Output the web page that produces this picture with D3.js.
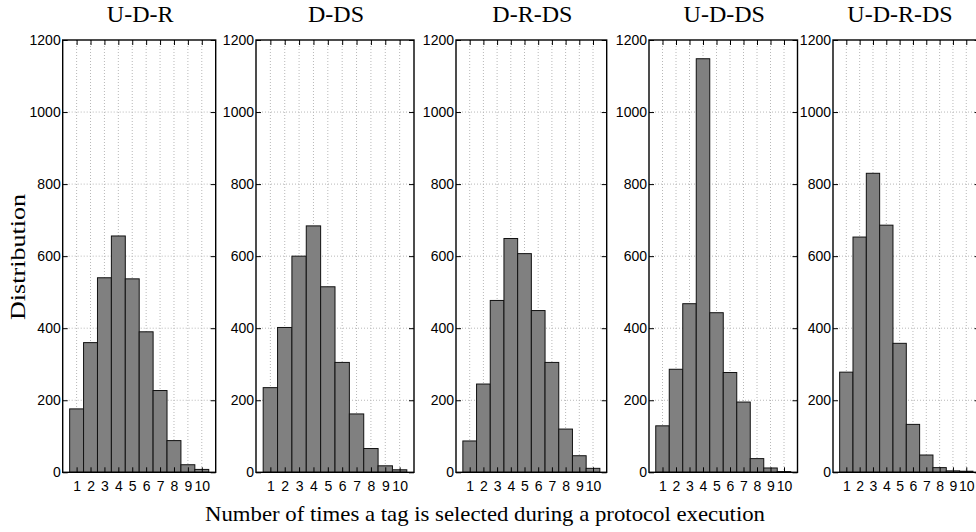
<!DOCTYPE html>
<html>
<head>
<meta charset="utf-8">
<script src="https://cdn.jsdelivr.net/npm/d3@7"></script>
<style>
  html, body { margin: 0; padding: 0; background: white; }
  svg { display: block; }
</style>
</head>
<body>
<div id="chart"></div>
<script>
const W = 976, H = 532;
const TICK_LEN = 5;
const BAR_FILL = '#808080';
const GRID_COLOR = '#b8b8b8';

// data
const categories = [1, 2, 3, 4, 5, 6, 7, 8, 9, 10];
const panelTitles = ['U-D-R', 'D-DS', 'D-R-DS', 'U-D-DS', 'U-D-R-DS'];
const udr = [176, 360, 540, 656, 537, 390, 227, 88, 21, 8];
const dds = [235, 402, 600, 684, 515, 305, 162, 66, 18, 7];
const drds = [87, 245, 477, 649, 607, 449, 305, 120, 46, 11];
const udds = [129, 286, 468, 1148, 443, 277, 195, 38, 12, 2];
const udrds = [278, 653, 830, 686, 358, 133, 48, 13, 4, 3];
const yTicks = [0, 200, 400, 600, 800, 1000, 1200];
const xLabel = 'Number of times a tag is selected during a protocol execution';
const yLabel = 'Distribution';

const series = [udr, dds, drds, udds, udrds];
// left / right edge of each panel box
const panelBox = [[62.7, 215.7], [256, 414], [456, 606.7], [649, 797.5], [833, 979.6]];
const plotTop = 40, plotBottom = 472.3;

let svg = d3.select('#chart').append('svg')
  .attr('width', W).attr('height', H)
  .style('font-family', '"Liberation Sans", Arial, sans-serif');

let y = d3.scaleLinear().domain([0, 1200]).range([plotBottom, plotTop]);

series.forEach((vals, i) => {
  let [x0, x1] = panelBox[i];
  let x = d3.scaleLinear().domain([0, 11]).range([x0, x1]);
  let g = svg.append('g').attr('class', 'panel');

  // grid
  g.append('g').selectAll('line').data(categories).join('line')
    .attr('x1', d => x(d)).attr('x2', d => x(d))
    .attr('y1', plotTop).attr('y2', plotBottom)
    .attr('stroke', GRID_COLOR).attr('stroke-width', 1)
    .attr('stroke-dasharray', '1,2');
  g.append('g').selectAll('line').data(yTicks.slice(1, -1)).join('line')
    .attr('x1', x0).attr('x2', x1)
    .attr('y1', d => y(d)).attr('y2', d => y(d))
    .attr('stroke', GRID_COLOR).attr('stroke-width', 1)
    .attr('stroke-dasharray', '1,2');

  // bars
  g.append('g').selectAll('rect').data(categories).join('rect')
    .attr('x', d => x(d - 0.5))
    .attr('width', d => x(d + 0.5) - x(d - 0.5))
    .attr('y', (d, j) => y(vals[j]))
    .attr('height', (d, j) => plotBottom - y(vals[j]))
    .attr('fill', BAR_FILL)
    .attr('stroke', '#111').attr('stroke-width', 1);

  // axes with inward ticks
  let axL = d3.axisLeft(y).tickValues(yTicks).tickFormat(d3.format('d'))
    .tickSizeInner(-TICK_LEN).tickSizeOuter(0).tickPadding(2);
  let axR = d3.axisRight(y).tickValues(yTicks).tickSizeInner(-TICK_LEN).tickSizeOuter(0).tickFormat('');
  let axB = d3.axisBottom(x).tickValues(categories).tickFormat(d3.format('d'))
    .tickSizeInner(-TICK_LEN).tickSizeOuter(0).tickPadding(9);
  let axT = d3.axisTop(x).tickValues(categories).tickSizeInner(-TICK_LEN).tickSizeOuter(0).tickFormat('');

  g.append('g').attr('transform', `translate(${x0},0)`).call(axL);
  g.append('g').attr('transform', `translate(${x1},0)`).call(axR);
  g.append('g').attr('transform', `translate(0,${plotBottom})`).call(axB);
  g.append('g').attr('transform', `translate(0,${plotTop})`).call(axT);

  g.selectAll('.domain').remove();
  g.selectAll('.tick line').attr('stroke', '#000').attr('stroke-width', 1);
  g.selectAll('.tick text').attr('fill', '#000')
    .attr('font-size', 14)
    .attr('font-family', '"Liberation Sans", Arial, sans-serif');

  // box
  g.append('rect')
    .attr('x', x0).attr('y', plotTop)
    .attr('width', x1 - x0).attr('height', plotBottom - plotTop)
    .attr('fill', 'none').attr('stroke', '#000').attr('stroke-width', 1.4);

  // title
  svg.append('text')
    .attr('x', (x0 + Math.min(x1, 965)) / 2 + 1).attr('y', 22)
    .attr('text-anchor', 'middle')
    .style('font-family', '"Liberation Serif", "DejaVu Serif", serif')
    .style('font-size', '24px')
    .text(panelTitles[i]);
});

svg.append('text')
  .attr('x', 485).attr('y', 521)
  .attr('text-anchor', 'middle')
  .attr('textLength', 560).attr('lengthAdjust', 'spacingAndGlyphs')
  .style('font-family', '"Liberation Serif", "DejaVu Serif", serif')
  .style('font-size', '21px')
  .text(xLabel);

svg.append('text')
  .attr('transform', 'translate(25,257) rotate(-90)')
  .attr('text-anchor', 'middle')
  .attr('textLength', 126).attr('lengthAdjust', 'spacingAndGlyphs')
  .style('font-family', '"Liberation Serif", "DejaVu Serif", serif')
  .style('font-size', '22px')
  .text(yLabel);
</script>
</body>
</html>
